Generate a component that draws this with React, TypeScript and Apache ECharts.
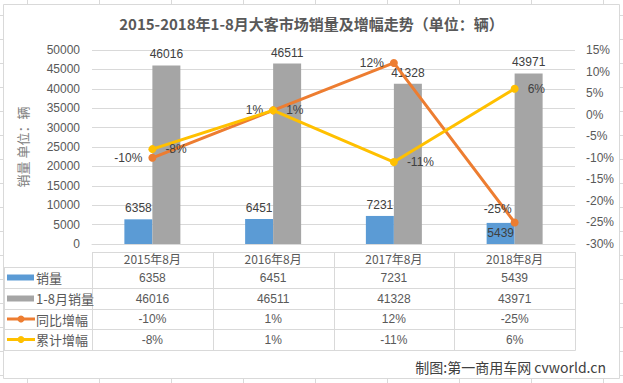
import React, { useEffect, useRef } from "react";
import * as echarts from "echarts";

const categories = ["2015年8月", "2016年8月", "2017年8月", "2018年8月"];
const monthSales = [6358, 6451, 7231, 5439];
const ytdSales = [46016, 46511, 41328, 43971];
const yoyGrowth = [-10, 1, 12, -25];
const ytdGrowth = [-8, 1, -11, 6];
const seriesNames = ["销量", "1-8月销量", "同比增幅", "累计增幅"];
const leftAxis = { min: 0, max: 50000, interval: 5000 };
const rightAxis = { min: -30, max: 15, interval: 5 };
const titleText = "2015-2018年1-8月大客市场销量及增幅走势（单位：辆）";
const yAxisName = "销量 单位：辆";
const footerText = "制图:第一商用车网 cvworld.cn";

const COLORS = ["#5b9bd5", "#a5a5a5", "#ed7d31", "#ffc000"];
const W = 623;
const H = 383;
const GL = 92;
const GR = 575;
const GT = 50;
const GB = 244;
const ROWS = [252, 267, 288, 309, 329, 350];
const TABLE_LEFT = 4;
const FONT = "'Liberation Sans', 'Noto Sans CJK SC', sans-serif";
const CJK = "'Noto Sans CJK SC', 'Liberation Sans', sans-serif";
const LINE = "#d9d9d9";
const TXT = "#404040";

function fmtPct(v: number) {
  return v + "%";
}

export default function App() {
  const ref = useRef<HTMLDivElement>(null);
  useEffect(() => {
    document.body.style.margin = "0";
    if (!ref.current) return;
    const chart = echarts.init(ref.current, undefined, { renderer: "svg" });
    const colW = (GR - GL) / categories.length;
    const g: any[] = [];
    g.push({
      type: "rect",
      z: -10,
      shape: { x: 3.5, y: 4.5, width: 616, height: 374 },
      style: { fill: "#ffffff", stroke: LINE, lineWidth: 1 },
      silent: true,
    });
    const hl = (x1: number, x2: number, y: number) =>
      g.push({ type: "line", shape: { x1, y1: y + 0.5, x2, y2: y + 0.5 }, style: { stroke: LINE, lineWidth: 1 }, silent: true });
    const vl = (x: number, y1: number, y2: number) =>
      g.push({ type: "line", shape: { x1: x + 0.5, y1, x2: x + 0.5, y2 }, style: { stroke: LINE, lineWidth: 1 }, silent: true });
    hl(GL, GR + 0.5, ROWS[0]);
    for (let r = 1; r < ROWS.length; r++) hl(TABLE_LEFT, GR + 0.5, ROWS[r]);
    vl(TABLE_LEFT, ROWS[1], ROWS[ROWS.length - 1] + 0.5);
    for (let c = 0; c <= categories.length; c++) vl(Math.round(GL + c * colW), ROWS[0], ROWS[ROWS.length - 1] + 0.5);
    const rowsData = [
      monthSales.map((v) => String(v)),
      ytdSales.map((v) => String(v)),
      yoyGrowth.map(fmtPct),
      ytdGrowth.map(fmtPct),
    ];
    rowsData.forEach((row, r) => {
      const cy = (ROWS[r + 1] + ROWS[r + 2]) / 2;
      row.forEach((t, c) => {
        g.push({
          type: "text",
          x: GL + (c + 0.5) * colW,
          y: cy,
          style: { text: t, fill: "#595959", font: `12px ${FONT}`, align: "center", verticalAlign: "middle" },
          silent: true,
        });
      });
      if (r < 2) {
        g.push({ type: "rect", shape: { x: 7, y: cy - 3, width: 27, height: 6 }, style: { fill: COLORS[r] }, silent: true });
      } else {
        g.push({ type: "line", shape: { x1: 7, y1: cy, x2: 35, y2: cy }, style: { stroke: COLORS[r], lineWidth: 3 }, silent: true });
        g.push({ type: "circle", shape: { cx: 21, cy, r: 3.5 }, style: { fill: COLORS[r] }, silent: true });
      }
      g.push({
        type: "text",
        x: 36,
        y: cy,
        style: { text: seriesNames[r], fill: "#595959", font: `13px ${CJK}`, align: "left", verticalAlign: "middle" },
        silent: true,
      });
    });
    g.push({
      type: "text",
      x: 606,
      y: 367,
      style: { text: footerText, fill: TXT, font: `14px ${CJK}`, align: "right", verticalAlign: "middle" },
      silent: true,
    });

    const barLabel = { show: true, position: "top", distance: 5, color: TXT, fontSize: 12, fontFamily: FONT };
    chart.setOption({
      animation: false,
      backgroundColor: "transparent",
      title: {
        text: titleText,
        left: "center",
        top: 11,
        textStyle: { color: "#595959", fontSize: 15, fontWeight: "bold", fontFamily: CJK },
      },
      grid: { left: GL, right: W - GR, top: GT, bottom: H - GB },
      xAxis: {
        type: "category",
        data: categories,
        axisLine: { lineStyle: { color: LINE } },
        axisTick: { show: false },
        axisLabel: { color: "#595959", fontSize: 12, fontFamily: CJK, margin: 8 },
      },
      yAxis: [
        {
          type: "value",
          min: leftAxis.min,
          max: leftAxis.max,
          interval: leftAxis.interval,
          name: yAxisName,
          nameLocation: "middle",
          nameGap: 63,
          nameTextStyle: { color: "#808080", fontSize: 13, fontFamily: CJK },
          axisLine: { show: false },
          axisTick: { show: false },
          axisLabel: { color: "#595959", fontSize: 12, fontFamily: FONT, margin: 12, formatter: (v: number) => String(v) },
          splitLine: { lineStyle: { color: LINE } },
        },
        {
          type: "value",
          min: rightAxis.min,
          max: rightAxis.max,
          interval: rightAxis.interval,
          axisLine: { show: false },
          axisTick: { show: false },
          axisLabel: { color: "#595959", fontSize: 12, fontFamily: FONT, margin: 11, formatter: (v: number) => v + "%" },
          splitLine: { show: false },
        },
      ],
      series: [
        {
          name: seriesNames[0],
          type: "bar",
          data: monthSales.map((v, i) =>
            i === 3 ? { value: v, label: { position: "insideTop", distance: 4 } } : v
          ),
          barWidth: 28,
          barGap: "0%",
          itemStyle: { color: COLORS[0] },
          label: barLabel,
          z: 2,
        },
        {
          name: seriesNames[1],
          type: "bar",
          data: ytdSales,
          barWidth: 28,
          barGap: "0%",
          itemStyle: { color: COLORS[1] },
          label: barLabel,
          z: 2,
        },
        {
          name: seriesNames[2],
          type: "line",
          yAxisIndex: 1,
          data: yoyGrowth.map((v, i) =>
            i === 3 ? { value: v, label: { position: "top", offset: [-17, 3] } } : v
          ),
          symbol: "circle",
          symbolSize: 8,
          lineStyle: { color: COLORS[2], width: 3 },
          itemStyle: { color: COLORS[2] },
          label: { show: true, position: "left", distance: 6, color: TXT, fontSize: 12, fontFamily: FONT, formatter: (p: any) => fmtPct(p.value) },
          z: 4,
        },
        {
          name: seriesNames[3],
          type: "line",
          yAxisIndex: 1,
          data: ytdGrowth,
          symbol: "circle",
          symbolSize: 8,
          lineStyle: { color: COLORS[3], width: 3 },
          itemStyle: { color: COLORS[3] },
          label: { show: true, position: "right", distance: 9, color: TXT, fontSize: 12, fontFamily: FONT, formatter: (p: any) => fmtPct(p.value) },
          z: 5,
        },
      ],
      graphic: g,
    });
    return () => chart.dispose();
  }, []);
  return (
    <div
      style={{
        width: W,
        height: H,
        position: "relative",
        backgroundColor: "#ffffff",
        backgroundImage:
          "linear-gradient(to right, #d9d9d9 1px, transparent 1px), linear-gradient(to bottom, #d9d9d9 1px, transparent 1px)",
        backgroundSize: "72px 24px",
        backgroundPosition: "27px 15px",
      }}
    >
      <div ref={ref} style={{ width: W, height: H }} />
    </div>
  );
}
